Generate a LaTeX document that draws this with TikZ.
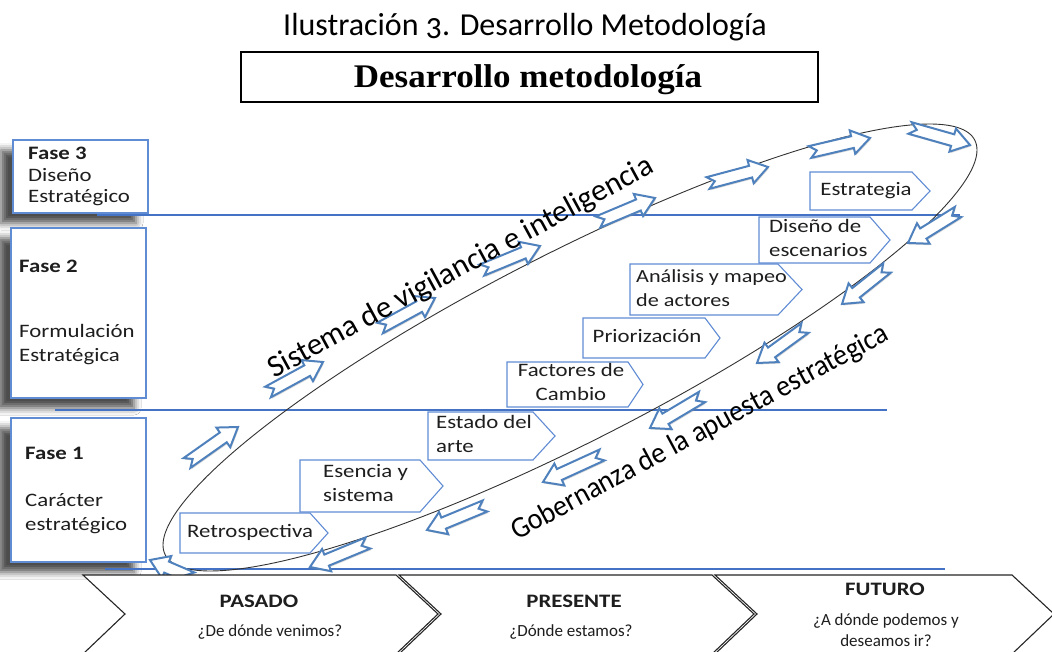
\documentclass[tikz,border=0pt]{standalone}
\usepackage{fontspec}
\setmainfont{Carlito}
\newfontfamily\titlefont{Carlito}[Numbers=OldStyle]
\newfontfamily\timesfont{Liberation Serif}
\usetikzlibrary{shadows,shadows.blur}
\definecolor{lineblue}{RGB}{68,114,196}
\definecolor{boxblue}{RGB}{96,140,212}
\definecolor{arrblue}{RGB}{79,129,189}
\definecolor{txt}{RGB}{30,30,30}
\newcommand\lbll[1]{\scalebox{1.2}[1]{\begin{tabular}{@{}l@{}}#1\end{tabular}}}
\newcommand\lblc[1]{\scalebox{1.2}[1]{\begin{tabular}{@{}c@{}}#1\end{tabular}}}
\newcommand\barrow[4]{%
  \pgfmathsetmacro\baang{atan2(-(#4-#2),#3-#1)}%
  \pgfmathsetmacro\balen{veclen(#3-#1,#4-#2)}%
  \begin{scope}[shift={(#1,#2)}, rotate=\baang]
    \draw[blockarrow] (0,-6) -- ({\balen-18},-6) -- ({\balen-18},-12) -- (\balen,0)
      -- ({\balen-18},12) -- ({\balen-18},6) -- (0,6) -- (7,0) -- cycle;
  \end{scope}}
\newcommand\pent[5]{% left, top, right, tip, bottom
  \draw[stepshape] (#1,#2) -- (#3,#2) -- (#4,{(#2+#5)/2}) -- (#3,#5) -- (#1,#5) -- cycle;}
\begin{document}
\begin{tikzpicture}[x=1pt,y=-1pt,
  lbl/.style={inner sep=0pt, text=txt, font=\fontsize{19}{23.5}\selectfont},
  phasebox/.style={draw=boxblue, line width=1.1pt, fill=white, inner sep=0pt,
     blur shadow={shadow xshift=-12pt, shadow yshift=-10pt, shadow opacity=70, shadow blur radius=7pt}},
  hline/.style={draw=lineblue, line width=1.6pt},
  stepshape/.style={draw=boxblue, line width=1.1pt, fill=white},
  blockarrow/.style={draw=arrblue, line width=2pt, fill=white, line join=miter,
     drop shadow={shadow xshift=1pt, shadow yshift=-1.5pt, opacity=0.3}},
  chev/.style={draw=black!85, line width=1.1pt, fill=white},
  ]
\useasboundingbox (0,0) rectangle (1052,652);
\fill[white] (0,0) rectangle (1052,652);

% title
\node[inner sep=0pt, font=\titlefont\fontsize{32}{38}\selectfont] (title) at (525,27) {Ilustración 3. Desarrollo Metodología};
\node[draw=black, line width=2.8pt, minimum width=577pt, minimum height=50pt, inner sep=0pt] (head) at (529.5,77) {};
\node[inner sep=0pt, font=\timesfont\bfseries\fontsize{33}{38}\selectfont] (headt) at (528,80) {\scalebox{1.06}[1]{Desarrollo metodología}};

% phase boxes
\node[phasebox, minimum width=135pt, minimum height=73pt] (f3) at (80.5,176.5) {};
\node[phasebox, minimum width=135pt, minimum height=170pt] (f2) at (78.5,313) {};
\node[phasebox, minimum width=135pt, minimum height=144pt] (f1) at (78.5,490) {};
\node[lbl, anchor=west, font=\fontsize{19}{21.5}\selectfont] (f3t) at (28,177) {\lbll{\textbf{Fase 3}\\Diseño\\Estratégico}};
\node[lbl, anchor=west, font=\fontsize{19}{21.5}\selectfont] (f2a) at (19,268) {\lbll{\textbf{Fase 2}}};
\node[lbl, anchor=west, font=\fontsize{19}{23.5}\selectfont] (f2b) at (19,345) {\lbll{Formulación\\Estratégica}};
\node[lbl, anchor=west, font=\fontsize{19}{21.5}\selectfont] (f1a) at (25,455) {\lbll{\textbf{Fase 1}}};
\node[lbl, anchor=west, font=\fontsize{19}{24}\selectfont] (f1b) at (25,514) {\lbll{Carácter\\estratégico}};

% horizontal lines
\coordinate (l3a) at (97,215); \coordinate (l3b) at (960,215);
\coordinate (l2a) at (55,410); \coordinate (l2b) at (887,410);
\coordinate (l1a) at (105,569); \coordinate (l1b) at (945,569);
\draw[hline] (l3a) -- (l3b);
\draw[hline] (l2a) -- (l2b);
\draw[hline] (l1a) -- (l1b);

% ellipse
\draw[black!80, line width=0.9pt] plot[domain=0:360, samples=241, variable=\t]
   ({570+407*cos(\t)}, {347.5-197.5*cos(\t)+104.6*sin(\t)}) -- cycle;

% block arrows along the ellipse
\barrow{192}{578}{150}{560}
\barrow{187}{463}{238}{427}
\barrow{268}{392}{323}{362}
\barrow{380}{328}{435}{298}
\barrow{482}{270}{540}{246}
\barrow{598}{222}{655}{198}
\barrow{708}{183}{768}{167}
\barrow{810}{152}{870}{138}
\barrow{910}{128}{970}{145}
\barrow{958}{212}{908}{243}
\barrow{887}{268}{842}{304}
\barrow{805}{328}{757}{363}
\barrow{702}{397}{650}{428}
\barrow{602}{455}{543}{482}
\barrow{485}{506}{427}{530}
\barrow{368}{543}{310}{567}

% steps
\pent{180}{513}{310}{328}{553}
\pent{300}{460}{420}{443}{512}
\pent{428}{412}{533}{555}{460}
\pent{507}{362}{628}{643}{407}
\pent{583}{318}{705}{720}{358}
\pent{630}{264}{778}{802}{315}
\pent{759}{217}{870}{890}{263}
\pent{810}{172}{912}{930}{210}
\node[lbl] (s1) at (250,533) {\lblc{Retrospectiva}};
\node[lbl, anchor=west] (s2) at (323,485) {\lbll{Esencia y\\sistema}};
\node[lbl, anchor=west] (s3) at (436,436) {\lbll{Estado del\\arte}};
\node[lbl] (s4) at (571,384) {\lblc{Factores de\\Cambio}};
\node[lbl] (s5) at (647,338) {\lblc{Priorización}};
\node[lbl, anchor=west, font=\fontsize{18.5}{23.5}\selectfont] (s6) at (636,290) {\lbll{Análisis y mapeo\\de actores}};
\node[lbl, anchor=west] (s7) at (769,240) {\lbll{Diseño de\\escenarios}};
\node[lbl] (s8) at (866,191) {\lblc{Estrategia}};

% rotated texts
\node[inner sep=0pt, text=black, rotate=28.5, font=\fontsize{31}{36}\selectfont] (vig) at (461,268)
   {Sistema de vigilancia e inteligencia};
\node[inner sep=0pt, text=black, rotate=28.3, font=\fontsize{30}{35}\selectfont] (gob) at (700,433)
   {\scalebox{0.93}[1]{Gobernanza de la apuesta estratégica}};

% chevrons
\draw[chev] (83,575) -- (396,575) -- (438,614) -- (396,654) -- (83,654) -- (125,614) -- cycle;
\draw[chev] (399,575) -- (712,575) -- (754,614) -- (712,654) -- (399,654) -- (441,614) -- cycle;
\draw[chev] (715,575) -- (1012,575) -- (1054,614) -- (1012,654) -- (715,654) -- (757,614) -- cycle;
\node[inner sep=0pt, text=txt, font=\bfseries\fontsize{19}{22}\selectfont] (p1) at (259,601) {\scalebox{1.2}[1]{PASADO}};
\node[inner sep=0pt, text=txt, font=\fontsize{17}{20}\selectfont] (q1) at (270,632) {¿De dónde venimos?};
\node[inner sep=0pt, text=txt, font=\bfseries\fontsize{19}{22}\selectfont] (p2) at (574,601) {\scalebox{1.2}[1]{PRESENTE}};
\node[inner sep=0pt, text=txt, font=\fontsize{17}{20}\selectfont] (q2) at (571,632) {¿Dónde estamos?};
\node[inner sep=0pt, text=txt, font=\bfseries\fontsize{19}{22}\selectfont] (p3) at (885,589) {\scalebox{1.2}[1]{FUTURO}};
\node[inner sep=0pt, text=txt, font=\fontsize{17}{21}\selectfont, align=center] (q3) at (886,630) {¿A dónde podemos y\\deseamos ir?};
\end{tikzpicture}
\end{document}
